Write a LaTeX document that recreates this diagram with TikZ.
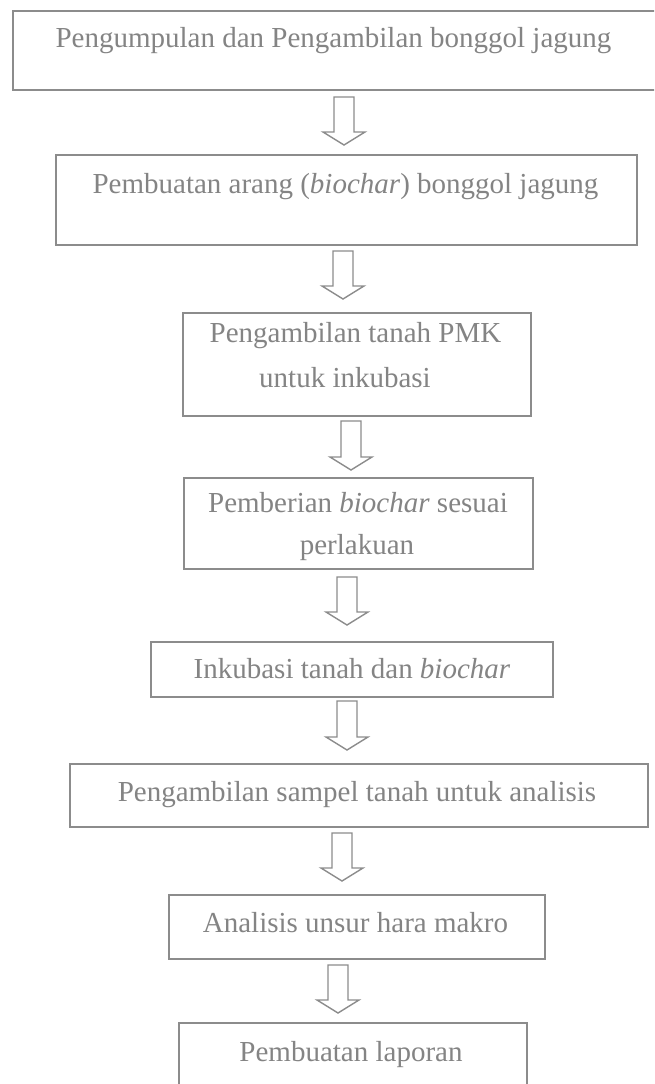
\documentclass[tikz,border=0pt]{standalone}
\usepackage{fontspec}
\setmainfont{Liberation Serif}
\definecolor{boxgray}{RGB}{140,140,140}
\definecolor{txtgray}{RGB}{132,132,132}
\tikzset{
  stepbox/.style={draw=boxgray, line width=1.8pt, inner sep=0pt, anchor=north west},
  lbl/.style={text=txtgray, font=\fontsize{29}{43}\selectfont, anchor=base, inner sep=0pt},
  arrowline/.style={draw=boxgray, line width=1.4pt, line join=miter, fill=white},
  pics/barrow/.style={code={\path[arrowline] (-10,0) -- (-10,#1-13) -- (-21,#1-13) -- (0,#1) -- (21,#1-13) -- (10,#1-13) -- (10,0) -- cycle;}}
}
\begin{document}
\begin{tikzpicture}[x=1pt,y=-1pt]
\clip (0,0) rectangle (654,1084);
\fill[white] (0,0) rectangle (654,1084);
% boxes
\node[stepbox, minimum width=688pt, minimum height=79pt]  (b1) at (12,10)  {};
\node[stepbox, minimum width=581pt, minimum height=90pt]  (b2) at (55,154) {};
\node[stepbox, minimum width=348pt, minimum height=103pt] (b3) at (182,312) {};
\node[stepbox, minimum width=349pt, minimum height=91pt]  (b4) at (183,477) {};
\node[stepbox, minimum width=402pt, minimum height=55pt]  (b5) at (150,641) {};
\node[stepbox, minimum width=578pt, minimum height=63pt]  (b6) at (69,763) {};
\node[stepbox, minimum width=376pt, minimum height=64pt]  (b7) at (168,894) {};
\node[stepbox, minimum width=348pt, minimum height=100pt] (b8) at (178,1022) {};
% texts
\node[lbl] (t1)  at (333.5,47)  {Pengumpulan dan Pengambilan bonggol jagung};
\node[lbl] (t2)  at (345.5,193) {Pembuatan arang (\textit{biochar}) bonggol jagung};
\node[lbl] (t3a) at (355.5,342) {Pengambilan tanah PMK};
\node[lbl] (t3b) at (345,387)   {untuk inkubasi};
\node[lbl] (t4a) at (358,512)   {Pemberian \textit{biochar} sesuai};
\node[lbl] (t4b) at (357,554)   {perlakuan};
\node[lbl] (t5)  at (352,678)   {Inkubasi tanah dan \textit{biochar}};
\node[lbl] (t6)  at (357,801)   {Pengambilan sampel tanah untuk analisis};
\node[lbl] (t7)  at (355.5,932) {Analisis unsur hara makro};
\node[lbl] (t8)  at (351,1061)  {Pembuatan laporan};
% block arrows
\pic (a1) at (344,97)  {barrow=48};
\pic (a2) at (343,251) {barrow=48};
\pic (a3) at (351,421) {barrow=49};
\pic (a4) at (347,577) {barrow=48};
\pic (a5) at (347,701) {barrow=49};
\pic (a6) at (342,833) {barrow=48};
\pic (a7) at (338,965) {barrow=48};
\end{tikzpicture}
\end{document}
